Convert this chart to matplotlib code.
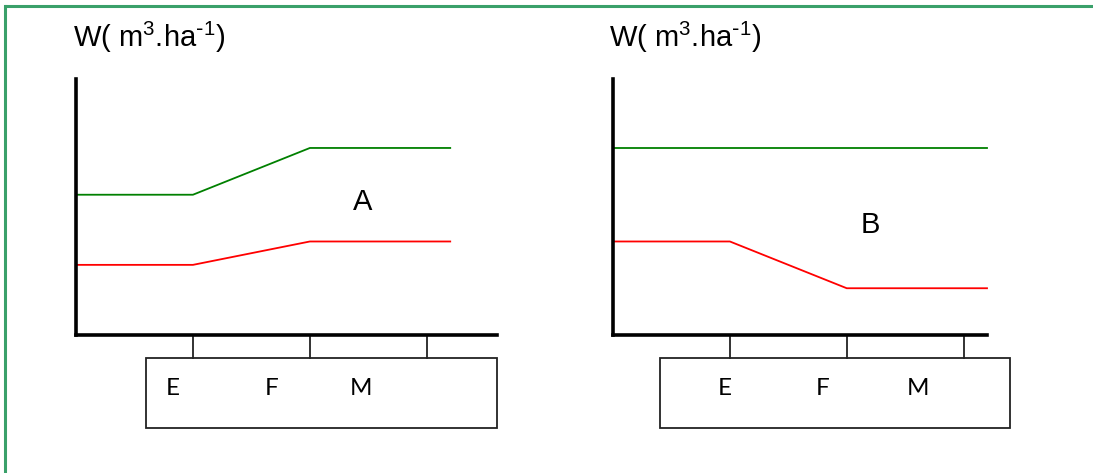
import matplotlib
matplotlib.use('Agg')
import matplotlib.pyplot as plt
from matplotlib.lines import Line2D
from matplotlib.patches import Rectangle

plt.rcParams['font.family'] = ['Liberation Sans', 'DejaVu Sans']
plt.rcParams['mathtext.default'] = 'regular'

# schematic data (arbitrary units, ticks at 1, 2, 3)
stages = ['E', 'F', 'M']
x_pts = [0, 1, 2, 3.2]
green_a = [6, 6, 8, 8]
red_a = [3, 3, 4, 4]
green_b = [8, 8, 8, 8]
red_b = [4, 4, 2, 2]
panel_names = ['A', 'B']
ylabel = r'W( m$^{3}$.ha$^{\text{-}1}$)'

fig = plt.figure(figsize=(10.93, 4.73), dpi=100)

# green frame (top and left edges only)
fig.add_artist(Line2D([5.5 / 1093, 1], [1 - 6 / 473] * 2, color='#3aa06a', lw=2.2,
                      transform=fig.transFigure))
fig.add_artist(Line2D([5 / 1093] * 2, [0, 1 - 6 / 473], color='#3aa06a', lw=2.2,
                      transform=fig.transFigure))

panels = [
    # left px, right px, xmax, series, box x range, label x, letter pos
    dict(l=76, r=497, xmax=3.6, green=green_a, red=red_a, box=(0.6, 3.6),
         lab_x=[0.83, 1.67, 2.44], let=(2.45, 5.7), tx=73),
    dict(l=613, r=987, xmax=3.2, green=green_b, red=red_b, box=(0.4, 3.4),
         lab_x=[0.96, 1.79, 2.61], let=(2.2, 4.7), tx=609),
]

for p, name in zip(panels, panel_names):
    ax = fig.add_axes([p['l'] / 1093, (473 - 335) / 473,
                       (p['r'] - p['l']) / 1093, 256 / 473])
    ax.set_xlim(0, p['xmax'])
    ax.set_ylim(0, 10.95)
    for s in ['top', 'right']:
        ax.spines[s].set_visible(False)
    for s in ['left', 'bottom']:
        ax.spines[s].set_linewidth(2.6)
        ax.spines[s].set_color('black')
    ax.set_xticks([])
    ax.set_yticks([])
    ax.patch.set_alpha(0)

    ax.plot(x_pts, p['green'], color='#008000', lw=1.3, clip_on=False)
    ax.plot(x_pts, p['red'], color='#ff0000', lw=1.3, clip_on=False)

    # tick stubs and stage box under the axis
    for t in [1, 2, 3]:
        ax.plot([t, t], [-0.1, -0.98], color='#222222', lw=1.3, clip_on=False)
    b0, b1 = p['box']
    ax.add_patch(Rectangle((b0, -3.97), b1 - b0, 2.99, fill=False,
                           ec='#222222', lw=1.3, clip_on=False))
    for lx, st in zip(p['lab_x'], stages):
        ax.text(lx, -2.28, st, ha='center', va='center', fontsize=17.5,
                family=['Lato', 'DejaVu Sans'], clip_on=False)

    ax.text(p['let'][0], p['let'][1], name, ha='center', va='center', fontsize=21)
    fig.text(p['tx'] / 1093, (473 - 47) / 473, ylabel, ha='left', va='baseline',
             fontsize=21)

fig.savefig('out.png', dpi=100)
